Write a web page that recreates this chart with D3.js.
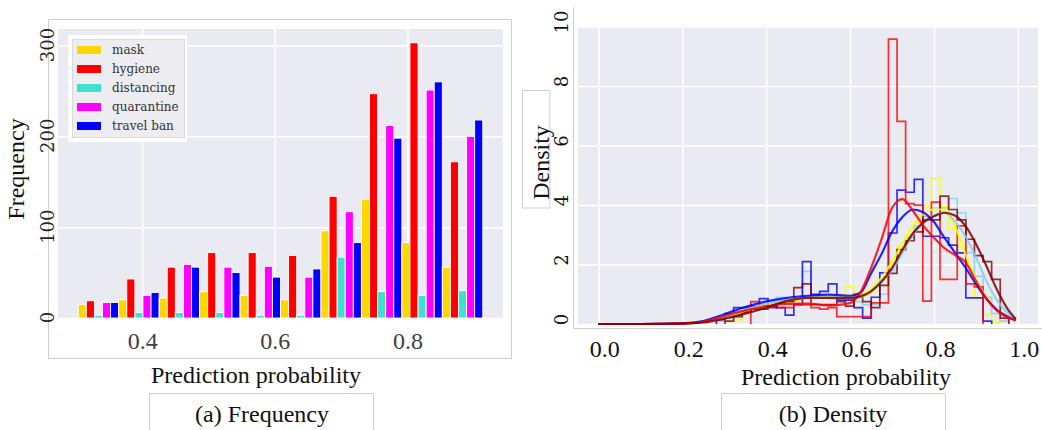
<!DOCTYPE html>
<html><head><meta charset="utf-8">
<script src="https://cdn.jsdelivr.net/npm/d3@7"></script>
<style>body{margin:0;background:#fff;} svg{display:block;}</style>
</head><body>
<svg id="c" width="1042" height="430"></svg>
<script>
// ---------------- (a) Frequency data ----------------
const categories = ["mask", "hygiene", "distancing", "quarantine", "travel ban"];
const catColors = ["#FFD700", "#FF0000", "#40E0D0", "#FF00FF", "#0000FF"];
const binEdgesA = [0.3036, 0.3646, 0.4256, 0.4866, 0.5476, 0.6086, 0.6696, 0.7306, 0.7916, 0.8526, 0.9136];
const maskCounts       = [15, 20, 22, 29, 25, 20, 96, 131, 83, 56];
const hygieneCounts    = [19, 43, 56, 72, 72, 69, 134, 247, 303, 172];
const distancingCounts = [3, 6, 6, 6, 3, 3, 67, 29, 25, 30];
const quarantineCounts = [17, 25, 59, 56, 57, 45, 117, 212, 251, 200];
const travelBanCounts  = [17, 28, 56, 50, 45, 54, 83, 198, 260, 218];
const xTicksA = [0.4, 0.6, 0.8];
const yTicksA = [0, 100, 200, 300];

// ---------------- (b) Density data ----------------
const binEdgesB = [0.2405,0.261,0.2815,0.302,0.3225,0.343,0.3635,0.384,0.4045,0.425,0.4455,0.466,0.4865,0.507,0.5275,0.548,0.5685,0.589,0.6095,0.63,0.6505,0.671,0.6915,0.712,0.7325,0.753,0.7735,0.794,0.8145,0.835,0.8555,0.876,0.8965,0.917,0.9375,0.958,0.9785,0.999];
const histYellow = [null,null,null, .1,.15,.4,.5,.6,.65,.7,.75,.8,.85,.9,.9,.85,.85, 1.25,.95,.95,1.1,1.5,2.0,2.6,3.0, 3.4,3.98,4.91,3.95,3.2,2.6,1.7,.9,.3,.05, null,null];
const histSky    = [null,null, .1,.2,.3,.45,.55,.6,.7,.9,.8,.85,1.77,.95,.9,.85,.85,.8,.75,.65,.65, 1.0,1.8,2.5,2.9,3.3,3.6,3.9,3.9,4.22,3.74,2.4,1.6,.9,.35,.1, null];
const histBlue   = [null,null, .15,.35,.55,.55,.6,.85,.6,.55,.3,.65, 2.1,1.0,1.1,1.35,.8,.8,.55,.2,.9,1.72, 3.06,4.5,4.43,4.86,2.95,2.95,2.9,2.65,2.39,.88,.88,.1, null,null,null];
const histRed    = [null,null,null,null,null,null, .75,.65,.7,.55,.55,.65,.65,.55,.5,.55, .25,.25,.25,.25, .71,.71, 9.58,6.81,4.05,4.0,.77,4.1,1.5,1.5,3.3,1.35,1.25, null,null,null,null];
const histMaroon = [null,null,null, .1,.25,.4,.5,.5,.55,.7,.75,1.22,1.35,.65,.65,.65,.75,.6,1.0,.75,.55, 1.3,1.7,2.5,2.8,3.1,3.5,3.5,4.3,3.85,3.5,2.85,2.3,2.1,1.5,.2, null];

const kdeX      = [0,.1,.2,.25,.3,.35,.4,.45,.5,.55,.6,.625,.65,.675,.7,.725,.75,.775,.8,.825,.85,.875,.9,.925,.95,.975,.995];
const kdeYellow = [0,0,.01,.06,.22,.45,.65,.8,.88,.92,.95,.98,1.2,1.55,2.1,2.7,3.3,3.7,3.85,3.85,3.3,2.35,1.5,.9,.48,.25,.13];
const kdeSky    = [0,0,.01,.07,.25,.48,.68,.82,.88,.9,.88,.9,1.1,1.45,1.8,2.4,3.0,3.4,3.65,3.75,3.45,2.95,2.25,1.45,.8,.38,.15];
const kdeBlue   = [0,0,.02,.1,.33,.57,.76,.88,.95,.99,.95,1.05,1.7,2.35,3.1,3.6,3.85,3.75,3.43,2.9,2.4,1.9,1.35,.85,.48,.25,.12];
const kdeRed    = [0,0,.02,.08,.27,.46,.6,.68,.69,.62,.7,1.07,1.88,2.85,3.9,4.2,3.8,3.3,2.9,2.55,2.32,2.08,1.45,.85,.45,.22,.13];
const kdeMaroon = [0,0,.01,.05,.18,.35,.55,.78,.88,.88,.88,.93,1.1,1.42,1.88,2.5,3.05,3.42,3.62,3.74,3.65,3.3,2.7,1.95,1.16,.52,.17];
const seriesColorsB = ["#FFFF00", "#87CEEB", "#0000FF", "#FF0000", "#800000"];
const xTicksB = [0, 0.2, 0.4, 0.6, 0.8, 1.0];
const yTicksB = [0, 2, 4, 6, 8, 10];

const SERIF = "'Liberation Serif', 'Times New Roman', serif";
const DV = "'DejaVu Serif', serif";
const svg = d3.select("#c");

// ================= Panel A =================
const xA = d3.scaleLinear().domain([0.2731, 0.9441]).range([58, 503]);
const yA = d3.scaleLinear().domain([0, 318.2]).range([318, 29]);

svg.append("rect").attr("x", 48.5).attr("y", 19.5).attr("width", 463).attr("height", 339)
  .attr("fill", "none").attr("stroke", "#cfcfcf");
svg.append("rect").attr("x", 58).attr("y", 29).attr("width", 445).attr("height", 289).attr("fill", "#EAEAF2");

const gxA = svg.append("g").attr("transform", "translate(0,318)")
  .call(d3.axisBottom(xA).tickValues(xTicksA).tickSize(-289).tickFormat(d3.format(".1f")));
gxA.select(".domain").remove();
gxA.selectAll("line").attr("stroke", "#fff").attr("stroke-width", 1.5);
gxA.selectAll("text").attr("y", 23).attr("dy", null).attr("dominant-baseline", "central")
  .attr("font-family", SERIF).attr("font-size", 24).attr("fill", "#404040");

const gyA = svg.append("g").attr("transform", "translate(58,0)")
  .call(d3.axisLeft(yA).tickValues(yTicksA).tickSize(-445));
gyA.select(".domain").remove();
gyA.selectAll("line").attr("stroke", "#fff").attr("stroke-width", 1.5);
gyA.selectAll("text").attr("x", null).attr("dy", null)
  .attr("transform", "translate(-11,-1) rotate(-90)")
  .attr("text-anchor", "middle").attr("dominant-baseline", "central")
  .attr("font-family", DV).attr("font-size", 18).attr("fill", "#262626");

const countsA = [maskCounts, hygieneCounts, distancingCounts, quarantineCounts, travelBanCounts];
const barsG = svg.append("g");
for (let i = 0; i < binEdgesA.length - 1; i++) {
  const w = (binEdgesA[i + 1] - binEdgesA[i]) / categories.length;
  countsA.forEach((arr, j) => {
    const x0 = xA(binEdgesA[i] + j * w), x1 = xA(binEdgesA[i] + (j + 1) * w);
    barsG.append("rect").attr("x", x0).attr("width", x1 - x0)
      .attr("y", yA(arr[i])).attr("height", yA(0) - yA(arr[i]))
      .attr("fill", catColors[j]).attr("stroke", "#fff").attr("stroke-width", 0.9);
  });
}

// legend
const lg = svg.append("g");
lg.append("rect").attr("x", 68).attr("y", 35).attr("width", 119).attr("height", 107).attr("fill", "#fff");
lg.append("rect").attr("x", 72.5).attr("y", 39.5).attr("width", 112).attr("height", 98)
  .attr("fill", "#ECECF1").attr("stroke", "#dadade");
categories.forEach((c, j) => {
  const cy = 50 + j * 19;
  lg.append("rect").attr("x", 77).attr("y", cy - 4).attr("width", 24).attr("height", 8).attr("fill", catColors[j]);
  lg.append("text").attr("x", 112).attr("y", cy).attr("dominant-baseline", "central")
    .attr("font-family", DV).attr("font-size", 12).attr("fill", "#333").text(c);
});

svg.append("text").attr("transform", "translate(24,169) rotate(-90)").attr("text-anchor", "middle")
  .attr("font-family", SERIF).attr("font-size", 24).attr("fill", "#111").text("Frequency");
svg.append("text").attr("x", 256).attr("y", 383).attr("text-anchor", "middle")
  .attr("font-family", SERIF).attr("font-size", 24).attr("fill", "#111").text("Prediction probability");
svg.append("path").attr("d", "M149.5,431V393.5H373.5V431").attr("fill", "none").attr("stroke", "#cfcfcf");
svg.append("text").attr("x", 262).attr("y", 421.5).attr("text-anchor", "middle")
  .attr("font-family", SERIF).attr("font-size", 24).attr("fill", "#111").text("(a) Frequency");

// ================= Panel B =================
const xB = d3.scaleLinear().domain([-0.0484, 1.048]).range([578, 1038]);
const yB = d3.scaleLinear().domain([0, 10.02]).range([324, 26]);

svg.append("path").attr("d", "M573.5,7V328.5H1042").attr("fill", "none").attr("stroke", "#cfcfcf");
svg.append("rect").attr("x", 578).attr("y", 26).attr("width", 460).attr("height", 298).attr("fill", "#EAEAF2");

const gxB = svg.append("g").attr("transform", "translate(0,324)")
  .call(d3.axisBottom(xB).tickValues(xTicksB).tickSize(-298).tickFormat(d3.format(".1f")));
gxB.select(".domain").remove();
gxB.selectAll("line").attr("stroke", "#fff").attr("stroke-width", 1.5);
gxB.selectAll("text").attr("x", 6).attr("y", 25).attr("dy", null).attr("dominant-baseline", "central")
  .attr("font-family", SERIF).attr("font-size", 24).attr("fill", "#111");

const gyB = svg.append("g").attr("transform", "translate(578,0)")
  .call(d3.axisLeft(yB).tickValues(yTicksB).tickSize(-460).tickFormat(d3.format("d")));
gyB.select(".domain").remove();
gyB.selectAll("line").attr("stroke", "#fff").attr("stroke-width", 1.5);
gyB.selectAll("text").attr("x", null).attr("dy", null)
  .attr("transform", "translate(-16.5,-5) rotate(-90)")
  .attr("text-anchor", "middle").attr("dominant-baseline", "central")
  .attr("font-family", DV).attr("font-size", 18).attr("fill", "#111");

const histsB = [histYellow, histSky, histBlue, histRed, histMaroon];
const kdesB = [kdeYellow, kdeSky, kdeBlue, kdeRed, kdeMaroon];
const lineB = d3.line().x(d => xB(d[0])).y(d => yB(d[1]));
histsB.forEach((h, s) => {
  const idx = h.map((v, i) => v == null ? -1 : i).filter(i => i >= 0);
  const f = idx[0], l = idx[idx.length - 1];
  const pts = [[binEdgesB[f], 0]];
  for (let i = f; i <= l; i++) { pts.push([binEdgesB[i], h[i]]); pts.push([binEdgesB[i + 1], h[i]]); }
  pts.push([binEdgesB[l + 1], 0]);
  svg.append("path").attr("d", lineB(pts)).attr("fill", "none")
    .attr("stroke", seriesColorsB[s]).attr("stroke-width", 1.7).attr("stroke-opacity", 0.8)
    .attr("stroke-linejoin", "miter");
});
const kdeLine = d3.line().x(d => xB(d[0])).y(d => yB(d[1])).curve(d3.curveMonotoneX);
kdesB.forEach((k, s) => {
  svg.append("path").attr("d", kdeLine(kdeX.map((x, i) => [x, k[i]]))).attr("fill", "none")
    .attr("stroke", seriesColorsB[s]).attr("stroke-width", 2.2).attr("stroke-opacity", 0.85);
});

svg.append("rect").attr("x", 522.5).attr("y", 90.5).attr("width", 27.5).attr("height", 117.5)
  .attr("fill", "#fff").attr("stroke", "#cfcfcf");
svg.append("text").attr("transform", "translate(549,162.5) rotate(-90)").attr("text-anchor", "middle")
  .attr("font-family", SERIF).attr("font-size", 24).attr("fill", "#111").text("Density");
svg.append("text").attr("x", 846).attr("y", 385).attr("text-anchor", "middle")
  .attr("font-family", SERIF).attr("font-size", 24).attr("fill", "#111").text("Prediction probability");
svg.append("path").attr("d", "M721.5,431V393.5H945.5V431").attr("fill", "none").attr("stroke", "#cfcfcf");
svg.append("text").attr("x", 833).attr("y", 421.5).attr("text-anchor", "middle")
  .attr("font-family", SERIF).attr("font-size", 24).attr("fill", "#111").text("(b) Density");
</script>
</body></html>
